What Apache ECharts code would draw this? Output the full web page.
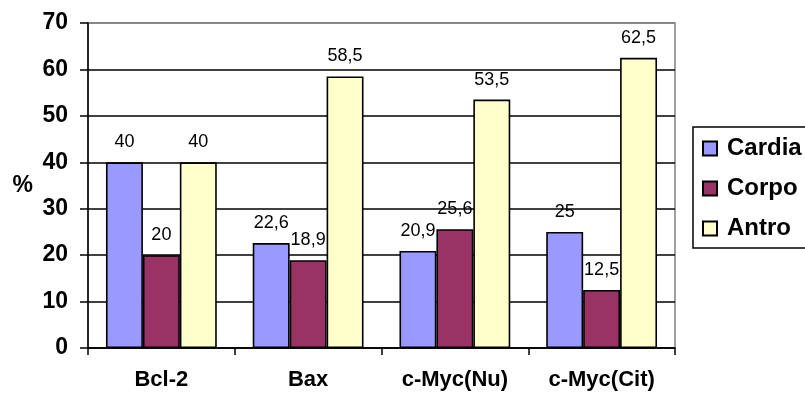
<!DOCTYPE html>
<html>
<head>
<meta charset="utf-8">
<script src="https://cdn.jsdelivr.net/npm/echarts@6/dist/echarts.min.js"></script>
<style>
  html, body { margin: 0; padding: 0; background: #fff; }
  #chart { width: 805px; height: 393px; }
</style>
</head>
<body>
<div id="chart"></div>
<script>
// Marker expression by gastric region
const categories = ['Bcl-2', 'Bax', 'c-Myc(Nu)', 'c-Myc(Cit)'];
const cardia = [40, 22.6, 20.9, 25];
const corpo = [20, 18.9, 25.6, 12.5];
const antro = [40, 58.5, 53.5, 62.5];
const yTicks = [0, 10, 20, 30, 40, 50, 60, 70];

const FONT = 'Arial, "Liberation Sans", sans-serif';
const fmt = p => String(p.value).replace('.', ',');

function barSeries(name, data, color) {
  return {
    name: name,
    type: 'bar',
    data: data,
    barGap: '0%',
    barCategoryGap: '24.5%',
    itemStyle: { color: color, borderColor: '#000', borderWidth: 1.6 },
    label: {
      show: true, position: 'top', distance: 11,
      color: '#000', fontFamily: FONT, fontSize: 18, formatter: fmt
    }
  };
}

const chart = echarts.init(document.getElementById('chart'), null, { renderer: 'canvas' });
chart.setOption({
  animation: false,
  backgroundColor: '#fff',
  grid: {
    left: 88, right: 130, top: 23, bottom: 45,
    show: true, borderColor: '#808080', borderWidth: 1.5, backgroundColor: 'transparent'
  },
  legend: {
    orient: 'vertical',
    left: 693, top: 127,
    padding: [9, 20, 7, 9],
    itemGap: 15,
    itemWidth: 14, itemHeight: 14,
    icon: 'rect',
    borderColor: '#000', borderWidth: 1.5,
    textStyle: {
      fontFamily: FONT, fontWeight: 'bold', fontSize: 24, lineHeight: 25,
      color: '#000', padding: [0, 0, 0, 5]
    },
    data: ['Cardia', 'Corpo', 'Antro']
  },
  xAxis: {
    type: 'category',
    data: categories,
    axisLine: { lineStyle: { color: '#000', width: 1.5 } },
    axisTick: { show: true, length: 7, lineStyle: { color: '#000', width: 1.5 } },
    axisLabel: { margin: 21, color: '#000', fontFamily: FONT, fontWeight: 'bold', fontSize: 22 }
  },
  yAxis: {
    type: 'value',
    min: yTicks[0], max: yTicks[yTicks.length - 1], interval: 10,
    name: '%', nameLocation: 'middle', nameRotate: 0, nameGap: 55,
    nameTextStyle: { fontFamily: FONT, fontWeight: 'bold', fontSize: 23, color: '#000' },
    axisLine: { show: true, lineStyle: { color: '#000', width: 1.5 } },
    axisTick: { show: true, length: 8, lineStyle: { color: '#000', width: 1.5 } },
    axisLabel: { margin: 20, color: '#000', fontFamily: FONT, fontWeight: 'bold', fontSize: 23 },
    splitLine: {
      show: true,
      lineStyle: { color: ['#000', '#000', '#000', '#000', '#000', '#000', '#000', '#808080'], width: 1.5 }
    }
  },
  series: [
    barSeries('Cardia', cardia, '#9999FF'),
    barSeries('Corpo', corpo, '#993366'),
    barSeries('Antro', antro, '#FFFFCC')
  ]
});
</script>
</body>
</html>
